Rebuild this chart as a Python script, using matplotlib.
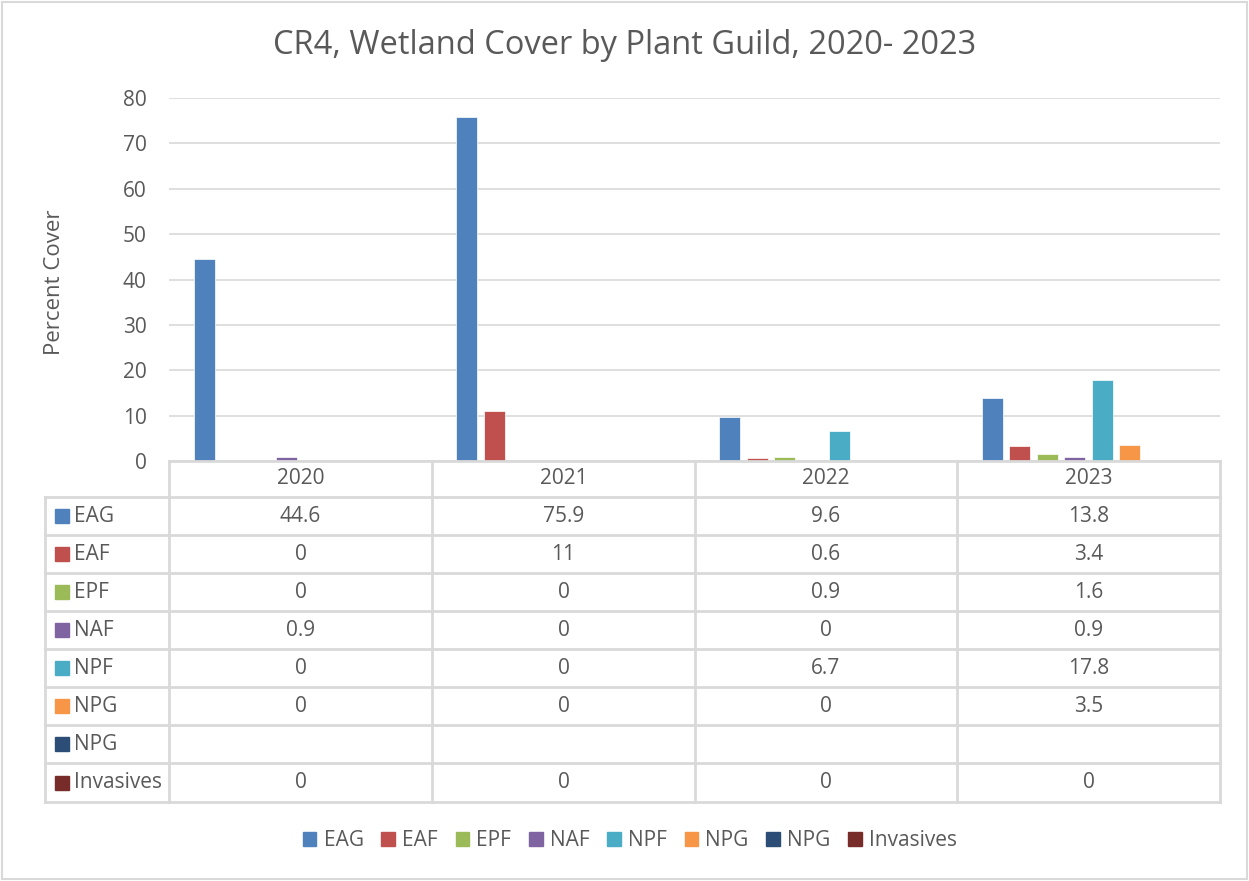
import matplotlib
matplotlib.use("Agg")
import matplotlib.pyplot as plt
from matplotlib.patches import Rectangle
from matplotlib.lines import Line2D
import numpy as np

plt.rcParams['font.family'] = ['Open Sans', 'DejaVu Sans']

years = ["2020", "2021", "2022", "2023"]
series_names = ["EAG", "EAF", "EPF", "NAF", "NPF", "NPG", "NPG", "Invasives"]
colors = ["#4f81bd", "#c0504d", "#9bbb59", "#8064a2", "#4bacc6", "#f79646", "#2c4d75", "#772c2a"]
eag = [44.6, 75.9, 9.6, 13.8]
eaf = [0, 11, 0.6, 3.4]
epf = [0, 0, 0.9, 1.6]
naf = [0.9, 0, 0, 0.9]
npf = [0, 0, 6.7, 17.8]
npg = [0, 0, 0, 3.5]
npg2 = [None, None, None, None]
invasives = [0, 0, 0, 0]
values = [eag, eaf, epf, naf, npf, npg, npg2, invasives]

W, H = 1249, 881
fig = plt.figure(figsize=(W / 100, H / 100), dpi=100)
txt = "#595959"
grid = "#d9d9d9"
fs = 15

def fx(px):
    return px / W

def fy(py):
    return 1 - py / H

x0, x1 = 169, 1220
ytop, ybot = 98, 461
ax = fig.add_axes([fx(x0), fy(ybot), fx(x1) - fx(x0), fy(ytop) - fy(ybot)])
ax.set_xlim(-0.5, 3.5)
ax.set_ylim(0, 80)
ax.set_yticks(range(0, 81, 10))
ax.yaxis.grid(True, color=grid, lw=1.2)
ax.set_axisbelow(True)
for s in ax.spines.values():
    s.set_visible(False)
ax.tick_params(axis='y', length=0, labelsize=fs, colors=txt, pad=16)
ax.set_xticks([])
ax.set_ylabel("Percent Cover", fontsize=16, color=txt)
ax.yaxis.set_label_coords(fx(65), fy(282), transform=fig.transFigure)

x = np.arange(len(years))
slot = 0.1046
bw = 0.08
for i, (vals, c) in enumerate(zip(values, colors)):
    v = [0 if a is None else a for a in vals]
    ax.bar(x + (i - 3.5) * slot, v, width=bw, color=c, edgecolor="white", linewidth=0.5, zorder=3)

# title
fig.text(fx(625), fy(45), "CR4, Wetland Cover by Plant Guild, 2020- 2023", ha="center", va="center",
         fontsize=23.5, color=txt)

# table
col_x = [169, 432, 695, 957, 1220]
row_y = [461, 497, 535, 573, 611, 649, 687, 725, 763, 802]
leg_x = 45
lw = 2
def hline(y, xa, xb):
    fig.add_artist(Line2D([fx(xa), fx(xb)], [fy(y), fy(y)], color=grid, lw=lw))
def vline(xv, ya, yb):
    fig.add_artist(Line2D([fx(xv), fx(xv)], [fy(ya), fy(yb)], color=grid, lw=lw))

hline(row_y[0], col_x[0], col_x[-1])
for y in row_y[1:]:
    hline(y, leg_x, col_x[-1])
vline(leg_x, row_y[1], row_y[-1])
for xv in col_x:
    vline(xv, row_y[0], row_y[-1])

for j, yr in enumerate(years):
    cx = (col_x[j] + col_x[j + 1]) / 2
    fig.text(fx(cx), fy((row_y[0] + row_y[1]) / 2), yr, ha="center", va="center", fontsize=fs, color=txt)

for i, (name, vals, c) in enumerate(zip(series_names, values, colors)):
    cy = (row_y[i + 1] + row_y[i + 2]) / 2
    fig.add_artist(Rectangle((fx(55), fy(cy + 7)), fx(14), 14 / H, color=c))
    fig.text(fx(74.5), fy(cy), name, ha="left", va="center", fontsize=fs, color=txt)
    for j, v in enumerate(vals):
        if v is None:
            continue
        cx = (col_x[j] + col_x[j + 1]) / 2
        fig.text(fx(cx), fy(cy), f"{v:g}", ha="center", va="center", fontsize=fs, color=txt)

# bottom legend
handles = [Rectangle((0, 0), 1, 1, color=c) for c in colors]
fig.legend(handles, series_names, loc="center", bbox_to_anchor=(fx(630), fy(841)), ncol=8,
           frameon=False, fontsize=fs, labelcolor=txt, handlelength=0.65, handleheight=0.65,
           handletextpad=0.35, columnspacing=0.85)

# outer border
fig.add_artist(Rectangle((0.002, 0.002), 0.996, 0.996, fill=False, edgecolor=grid, lw=1.5))

fig.savefig("out.png", dpi=100)
